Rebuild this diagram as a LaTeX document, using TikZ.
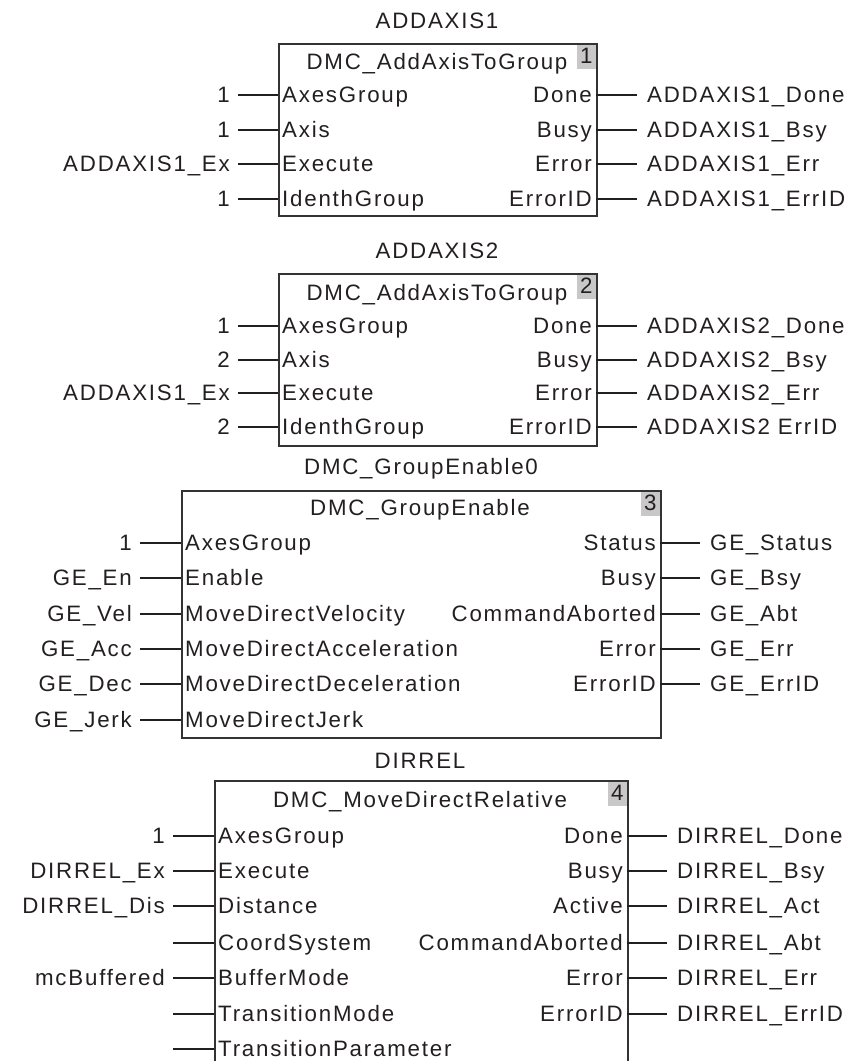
\documentclass[tikz,border=0pt]{standalone}
\usepackage{fontspec}
\setmainfont{Liberation Sans}[LetterSpace=8.0]
\definecolor{ink}{HTML}{231F20}
\definecolor{edge}{HTML}{333333}
\definecolor{badgegray}{HTML}{C8C8C8}
\begin{document}
\begin{tikzpicture}[x=1pt,y=-1pt,
  every node/.style={font=\fontsize{22.3}{26}\selectfont, text=ink},
  lbl/.style={inner ysep=0pt, text height=15pt, text depth=0pt},
  outL/.style={lbl, anchor=east, inner xsep=8pt},
  outR/.style={lbl, anchor=west, inner xsep=10pt},
  pinL/.style={lbl, anchor=west, inner xsep=4pt},
  pinR/.style={lbl, anchor=east, inner xsep=4pt},
  ttl/.style={lbl, anchor=center, inner xsep=0pt},
  wire/.style={draw=ink, line width=1.3pt},
  fbox/.style={draw=edge, line width=1.6pt, inner sep=0pt, anchor=north west},
  badge/.style={fill=badgegray, inner sep=0pt, anchor=north east, minimum width=19pt, minimum height=26pt, text height=15pt, text depth=0pt}]
\useasboundingbox (0,0) rectangle (856,1061);

% ---------------- Block 1 ----------------
\node[ttl] (inst1) at (437,21) {ADDAXIS1};
\node[badge] (bd1) at (596,43) {1};
\node[fbox, minimum width=318pt, minimum height=172pt] (fb1) at (278,43) {};
\node[ttl] (fn1) at (437,62) {DMC\_AddAxisToGroup};
\foreach \i/\y/\a/\p/\q/\b in {1/95/1/AxesGroup/Done/ADDAXIS1\_Done,
                                2/130/1/Axis/Busy/ADDAXIS1\_Bsy,
                                3/164/ADDAXIS1\_Ex/Execute/Error/ADDAXIS1\_Err,
                                4/199/1/IdenthGroup/ErrorID/ADDAXIS1\_ErrID}{
  \coordinate (b1a\i) at (278,\y);
  \coordinate (b1c\i) at (596,\y);
  \node[pinL] (b1ap\i) at (b1a\i) {\p};
  \node[pinR] (b1cp\i) at (b1c\i) {\q};
  \node[outL] (b1ao\i) at (238,\y) {\a};
  \node[outR] (b1co\i) at (637,\y) {\b};
  \draw[wire] (b1ao\i.east) -- (b1a\i);
  \draw[wire] (b1c\i) -- (b1co\i.west);
}

% ---------------- Block 2 ----------------
\node[ttl] (inst2) at (437,251) {ADDAXIS2};
\node[badge] (bd2) at (596,273) {2};
\node[fbox, minimum width=318pt, minimum height=172pt] (fb2) at (278,273) {};
\node[ttl] (fn2) at (437,293) {DMC\_AddAxisToGroup};
\foreach \i/\y/\a/\p/\q/\b in {1/326/1/AxesGroup/Done/ADDAXIS2\_Done,
                                2/360/2/Axis/Busy/ADDAXIS2\_Bsy,
                                3/393/ADDAXIS1\_Ex/Execute/Error/ADDAXIS2\_Err,
                                4/427/2/IdenthGroup/ErrorID/ADDAXIS2 ErrID}{
  \coordinate (b2a\i) at (278,\y);
  \coordinate (b2c\i) at (596,\y);
  \node[pinL] (b2ap\i) at (b2a\i) {\p};
  \node[pinR] (b2cp\i) at (b2c\i) {\q};
  \node[outL] (b2ao\i) at (238,\y) {\a};
  \node[outR] (b2co\i) at (637,\y) {\b};
  \draw[wire] (b2ao\i.east) -- (b2a\i);
  \draw[wire] (b2c\i) -- (b2co\i.west);
}

% ---------------- Block 3 ----------------
\node[ttl] (inst3) at (421,467) {DMC\_GroupEnable0};
\node[badge] (bd3) at (660,490) {3};
\node[fbox, minimum width=479pt, minimum height=247pt] (fb3) at (181,490) {};
\node[ttl] (fn3) at (420,508) {DMC\_GroupEnable};
\foreach \i/\y/\a/\p in {1/543/1/AxesGroup,
                         2/578/GE\_En/Enable,
                         3/614/GE\_Vel/MoveDirectVelocity,
                         4/649/GE\_Acc/MoveDirectAcceleration,
                         5/684/GE\_Dec/MoveDirectDeceleration,
                         6/720/GE\_Jerk/MoveDirectJerk}{
  \coordinate (b3a\i) at (181,\y);
  \node[pinL] (b3ap\i) at (b3a\i) {\p};
  \node[outL] (b3ao\i) at (140,\y) {\a};
  \draw[wire] (b3ao\i.east) -- (b3a\i);
}
\foreach \i/\y/\q/\b in {1/543/Status/GE\_Status,
                         2/578/Busy/GE\_Bsy,
                         3/614/CommandAborted/GE\_Abt,
                         4/649/Error/GE\_Err,
                         5/684/ErrorID/GE\_ErrID}{
  \coordinate (b3c\i) at (660,\y);
  \node[pinR] (b3cp\i) at (b3c\i) {\q};
  \node[outR] (b3co\i) at (700,\y) {\b};
  \draw[wire] (b3c\i) -- (b3co\i.west);
}

% ---------------- Block 4 ----------------
\node[ttl] (inst4) at (420,761) {DIRREL};
\node[badge] (bd4) at (627,780) {4};
\node[fbox, minimum width=413pt, minimum height=320pt] (fb4) at (214,780) {};
\node[ttl] (fn4) at (420,800) {DMC\_MoveDirectRelative};
\foreach \i/\y/\p in {1/836/AxesGroup, 2/871/Execute, 3/906/Distance,
                      4/943/CoordSystem, 5/978/BufferMode,
                      6/1014/TransitionMode, 7/1049/TransitionParameter}{
  \coordinate (b4a\i) at (214,\y);
  \node[pinL] (b4ap\i) at (b4a\i) {\p};
}
\foreach \i/\y/\a in {1/836/1, 2/871/DIRREL\_Ex, 3/906/DIRREL\_Dis, 5/978/mcBuffered}{
  \node[outL] (b4ao\i) at (173,\y) {\a};
  \draw[wire] (b4ao\i.east) -- (b4a\i);
}
\foreach \i/\y in {4/943, 6/1014, 7/1049}{
  \coordinate (b4f\i) at (173,\y);
  \draw[wire] (b4f\i) -- (b4a\i);
}
\foreach \i/\y/\q/\b in {1/836/Done/DIRREL\_Done,
                         2/871/Busy/DIRREL\_Bsy,
                         3/906/Active/DIRREL\_Act,
                         4/943/CommandAborted/DIRREL\_Abt,
                         5/978/Error/DIRREL\_Err,
                         6/1014/ErrorID/DIRREL\_ErrID}{
  \coordinate (b4c\i) at (627,\y);
  \node[pinR] (b4cp\i) at (b4c\i) {\q};
  \node[outR] (b4co\i) at (667,\y) {\b};
  \draw[wire] (b4c\i) -- (b4co\i.west);
}
\end{tikzpicture}
\end{document}
